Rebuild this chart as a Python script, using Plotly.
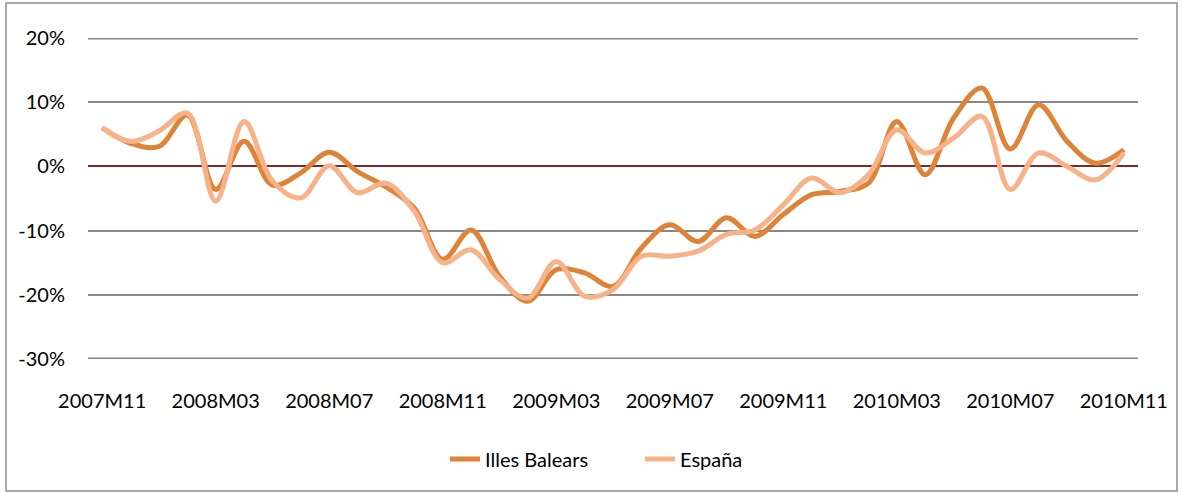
import plotly.graph_objects as go

months = ["2007M11", "2007M12", "2008M01", "2008M02", "2008M03", "2008M04", "2008M05",
          "2008M06", "2008M07", "2008M08", "2008M09", "2008M10", "2008M11", "2008M12",
          "2009M01", "2009M02", "2009M03", "2009M04", "2009M05", "2009M06", "2009M07",
          "2009M08", "2009M09", "2009M10", "2009M11", "2009M12", "2010M01", "2010M02",
          "2010M03", "2010M04", "2010M05", "2010M06", "2010M07", "2010M08", "2010M09",
          "2010M10", "2010M11"]

illes_balears = [6.0, 3.6, 3.1, 8.0, -3.6, 3.9, -2.9, -1.0, 2.2, -0.8, -3.2, -6.5,
                 -14.5, -9.9, -17.1, -21.0, -16.1, -16.6, -18.7, -12.7, -9.1, -11.7,
                 -8.0, -10.9, -7.5, -4.4, -3.9, -2.6, 7.0, -1.3, 7.5, 12.2, 2.7, 9.6,
                 3.9, 0.5, 2.6]

espana = [6.0, 3.9, 5.5, 8.3, -5.4, 7.0, -2.3, -4.9, 0.1, -4.1, -2.6, -7.0,
          -15.0, -13.0, -17.6, -20.5, -14.8, -20.2, -19.2, -14.0, -14.0, -13.2,
          -10.6, -9.9, -6.0, -1.8, -4.1, -1.3, 5.7, 2.1, 4.4, 7.8, -3.6, 2.1,
          0.0, -2.1, 2.1]

tick_labels = ["2007M11", "2008M03", "2008M07", "2008M11", "2009M03", "2009M07",
               "2009M11", "2010M03", "2010M07", "2010M11"]

y_tick_values = [20, 10, 0, -10, -20, -30]
y_tick_labels = ["20%", "10%", "0%", "-10%", "-20%", "-30%"]

W, H = 1182, 494
L, R, T, B = 88, 44, 38, 135
GRID = "#888888"

fig = go.Figure()
fig.add_trace(go.Scatter(x=months, y=illes_balears, name="Illes Balears", mode="lines",
                         line=dict(color="#DE8439", width=5, shape="spline", smoothing=1.0)))
fig.add_trace(go.Scatter(x=months, y=espana, name="España", mode="lines",
                         line=dict(color="#F8B28A", width=5, shape="spline", smoothing=1.0)))

pw, ph = W - L - R, H - T - B
def px_x(p):
    return (p - L) / pw
def px_y(p):
    return (H - B - p) / ph

# outer chart frame
fig.add_shape(type="rect", xref="paper", yref="paper",
              x0=px_x(6), x1=px_x(1177), y0=px_y(491), y1=px_y(3),
              line=dict(color="#8C8C8C", width=1.5), fillcolor="rgba(0,0,0,0)", layer="below")
# gridlines at the range edges (plotly omits them)
for yv in (max(y_tick_values), min(y_tick_values)):
    fig.add_shape(type="line", xref="paper", yref="y", x0=0, x1=1, y0=yv, y1=yv,
                  line=dict(color=GRID, width=3), layer="below")

fig.update_layout(
    width=W, height=H,
    margin=dict(l=L, r=R, t=T, b=B),
    paper_bgcolor="white", plot_bgcolor="white",
    font=dict(family="Lato", size=20, color="black"),
    showlegend=True,
    legend=dict(orientation="h", x=px_x(640), xanchor="center", y=px_y(459), yanchor="middle",
                font=dict(size=20), bgcolor="rgba(0,0,0,0)",
                entrywidth=150, entrywidthmode="pixels"),
    xaxis=dict(type="category", categoryorder="array", categoryarray=months,
               range=[-0.5, len(months) - 0.5],
               tickmode="array", tickvals=tick_labels, ticktext=tick_labels,
               showgrid=False, showline=False, zeroline=False, ticks="",
               ticklabelstandoff=28, tickfont=dict(size=20)),
    yaxis=dict(range=[-30, 20], tickmode="array",
               tickvals=y_tick_values, ticktext=y_tick_labels,
               showgrid=True, gridcolor=GRID, gridwidth=1.5,
               zeroline=True, zerolinecolor="#7A2C2C", zerolinewidth=1.5,
               showline=False, ticks="", ticklabelstandoff=22, tickfont=dict(size=20)),
)

fig.write_html("out.html", config={"displayModeBar": False},
               post_script="document.body.style.margin='0';")
